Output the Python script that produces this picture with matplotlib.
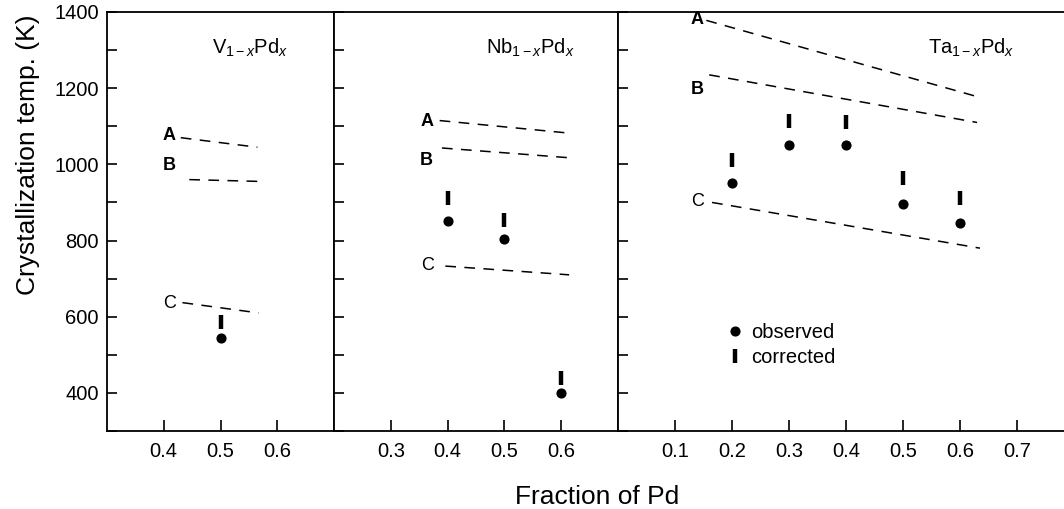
import numpy as np
import matplotlib
matplotlib.use('Agg')
from matplotlib import pyplot as plt
from matplotlib.lines import Line2D

plt.rcParams['font.family'] = ['Liberation Sans', 'DejaVu Sans']
plt.rcParams['mathtext.fontset'] = 'custom'
plt.rcParams['mathtext.rm'] = 'Liberation Sans'
plt.rcParams['mathtext.it'] = 'Liberation Sans:italic'

# V(1-x)Pd(x)
v_lines = {'A': ([0.43, 0.565], [1070, 1045]),
           'B': ([0.445, 0.575], [960, 955]),
           'C': ([0.433, 0.567], [637, 610])}
v_label_pos = {'A': (0.41, 1075), 'B': (0.41, 997), 'C': (0.41, 635)}
v_x = [0.5]
v_obs = [545]
v_corr = [585]

# Nb(1-x)Pd(x)
nb_lines = {'A': ([0.386, 0.614], [1115, 1082]),
            'B': ([0.39, 0.617], [1043, 1017]),
            'C': ([0.396, 0.614], [733, 710])}
nb_label_pos = {'A': (0.363, 1113), 'B': (0.363, 1010), 'C': (0.365, 734)}
nb_x = [0.4, 0.5, 0.6]
nb_obs = [850, 803, 400]
nb_corr = [913, 854, 440]

# Ta(1-x)Pd(x)
ta_lines = {'A': ([0.155, 0.625], [1378, 1180]),
            'B': ([0.16, 0.63], [1235, 1110]),
            'C': ([0.165, 0.635], [900, 780])}
ta_label_pos = {'A': (0.139, 1380), 'B': (0.139, 1197), 'C': (0.139, 903)}
ta_x = [0.2, 0.3, 0.4, 0.5, 0.6]
ta_obs = [950, 1050, 1050, 897, 845]
ta_corr = [1011, 1113, 1110, 965, 912]

panels = [
    ('V$_{1\u2212x}$Pd$_{x}$', v_lines, v_label_pos, v_x, v_obs, v_corr,
     (0.3, 0.7), [0.4, 0.5, 0.6], 0.552),
    ('Nb$_{1\u2212x}$Pd$_{x}$', nb_lines, nb_label_pos, nb_x, nb_obs, nb_corr,
     (0.2, 0.7), [0.3, 0.4, 0.5, 0.6], 0.546),
    ('Ta$_{1\u2212x}$Pd$_{x}$', ta_lines, ta_label_pos, ta_x, ta_obs, ta_corr,
     (0.0, 0.8), [0.1, 0.2, 0.3, 0.4, 0.5, 0.6, 0.7], 0.62),
]

W, H = 1064, 509
fig = plt.figure(figsize=(W / 100, H / 100), dpi=100)

# panel pixel extents (left, width)
px_left = [107, 334, 618]
px_width = [227, 284, 456]
top, bottom = 12, 431

axes = []
for i, (title, lines, lpos, xs, obs, corr, xlim, xt, tx) in enumerate(panels):
    ax = fig.add_axes([px_left[i] / W, (H - bottom) / H,
                       px_width[i] / W, (bottom - top) / H])
    axes.append(ax)
    for key, (lx, ly) in lines.items():
        ax.plot(lx, ly, color='black', lw=1.1, dashes=(7, 5.5))
        ax.text(lpos[key][0], lpos[key][1], key, fontsize=13,
                ha='center', va='center',
                fontweight='normal' if key == 'C' else 'bold')
    ax.plot(xs, obs, 'o', color='black', ms=6.3, label='observed')
    ax.plot(xs, corr, '|', color='black', ms=10.5, mew=3.2, label='corrected')
    ax.text(tx, 1305, title, fontsize=14.5, ha='center', va='center')

    ax.set_xlim(*xlim)
    ax.set_ylim(300, 1400)
    ax.set_xticks(xt)
    ax.set_xticklabels(['%.1f' % v for v in xt], fontsize=14.5)
    ax.set_yticks(np.arange(400, 1401, 200))
    ax.set_yticks(np.arange(300, 1401, 100), minor=True)
    ax.tick_params(direction='in', length=8, width=1.2, which='both',
                   top=False, right=False)
    ax.tick_params(axis='x', pad=8)
    ax.tick_params(axis='y', which='both', length=7, pad=6)
    for sp in ax.spines.values():
        sp.set_linewidth(1.3)
    if i > 0:
        ax.set_yticklabels([])
    else:
        ax.set_yticklabels([str(v) for v in range(400, 1401, 200)],
                           fontsize=14.5)
        ax.set_ylabel('Crystallization temp. (K)', fontsize=19)
        ax.yaxis.set_label_coords(-0.295, 0.66)

axes[2].spines['right'].set_visible(False)
handles = [Line2D([], [], ls='none', marker='o', color='black', ms=6.3),
           Line2D([], [], ls='none', marker='|', color='black', ms=10.5, mew=3.2)]
axes[2].legend(handles, ['observed', 'corrected'], frameon=False,
               loc='upper left', bbox_to_anchor=(0.203, 0.30), fontsize=14.5,
               handlelength=0.6, handletextpad=0.5, labelspacing=0.3)

fig.text(597 / W, 1 - 497 / H, 'Fraction of Pd', fontsize=19,
         ha='center', va='center')

fig.savefig('out.png', dpi=100)
